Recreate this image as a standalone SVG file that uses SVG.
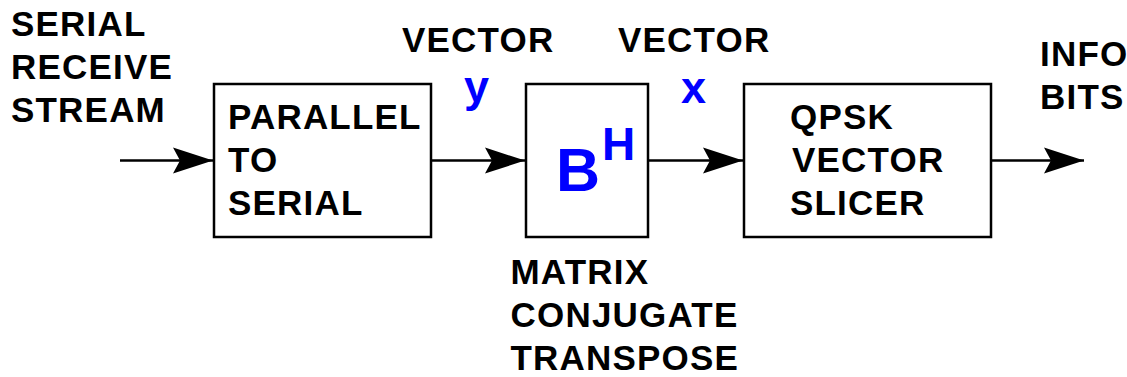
<svg xmlns="http://www.w3.org/2000/svg" width="1127" height="377" viewBox="0 0 1127 377">
<style>
.t{font-family:"Liberation Sans",Arial,sans-serif;font-weight:bold;font-size:35px;fill:#000;letter-spacing:1.2px}
.b{font-family:"Liberation Sans",Arial,sans-serif;font-weight:bold;fill:#0000ff}
.box{fill:#fff;stroke:#000;stroke-width:2.5}
.ln{stroke:#000;stroke-width:2.5;fill:none}
</style>
<defs>
<marker id="ah" markerUnits="userSpaceOnUse" markerWidth="42" markerHeight="28" viewBox="-40 -14 42 28" refX="0" refY="0" orient="auto">
<path d="M0,0 L-40,-13 L-33,0 L-40,13 Z" fill="#000"/>
</marker>
</defs>
<rect width="1127" height="377" fill="#fff"/>
<g id="connectors">
<line class="ln" x1="120" y1="160.5" x2="213" y2="160.5" marker-end="url(#ah)"/>
<line class="ln" x1="431" y1="160.5" x2="525" y2="160.5" marker-end="url(#ah)"/>
<line class="ln" x1="648" y1="160.5" x2="743" y2="160.5" marker-end="url(#ah)"/>
<line class="ln" x1="991" y1="160.5" x2="1084" y2="160.5" marker-end="url(#ah)"/>
</g>
<g id="input-label">
<text class="t" x="11" y="36">SERIAL</text>
<text class="t" x="11" y="79">RECEIVE</text>
<text class="t" x="11" y="122">STREAM</text>
</g>
<g id="parallel-to-serial">
<rect class="box" x="214" y="84" width="217" height="153"/>
<text class="t" x="228" y="129">PARALLEL</text>
<text class="t" x="228" y="172">TO</text>
<text class="t" x="228" y="215">SERIAL</text>
</g>
<g id="vector-y">
<text class="t" x="402" y="52">VECTOR</text>
<text class="b" x="464" y="102" font-size="45">y</text>
</g>
<g id="bh">
<rect class="box" x="526" y="84" width="122" height="153"/>
<text class="b" x="556" y="191" font-size="61">B</text>
<text class="b" x="602" y="160" font-size="46">H</text>
</g>
<g id="matrix-label">
<text class="t" x="510.5" y="284">MATRIX</text>
<text class="t" x="510.5" y="327">CONJUGATE</text>
<text class="t" x="510.5" y="370">TRANSPOSE</text>
</g>
<g id="vector-x">
<text class="t" x="618" y="52">VECTOR</text>
<text class="b" x="681" y="103" font-size="45">x</text>
</g>
<g id="qpsk-slicer">
<rect class="box" x="744" y="84" width="247" height="153"/>
<text class="t" x="790" y="129">QPSK</text>
<text class="t" x="792" y="172">VECTOR</text>
<text class="t" x="790" y="215">SLICER</text>
</g>
<g id="output-label">
<text class="t" x="1040" y="66">INFO</text>
<text class="t" x="1040" y="109">BITS</text>
</g>
</svg>
